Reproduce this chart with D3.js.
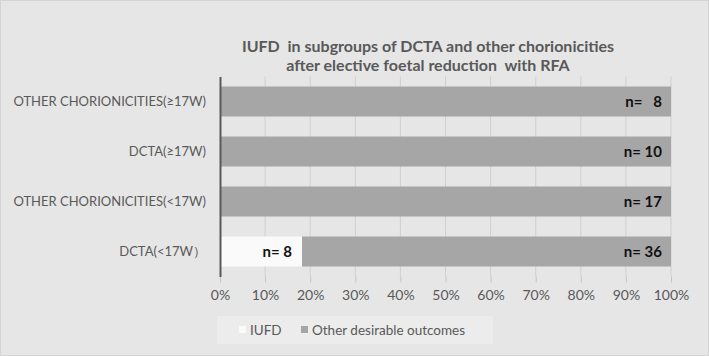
<!DOCTYPE html>
<html>
<head>
<meta charset="utf-8">
<script src="https://cdn.jsdelivr.net/npm/d3@7"></script>
<style>
  body { margin: 0; background: #fff; }
  svg text { font-family: Lato, "Open Sans", sans-serif; fill: #595959; white-space: pre; }
</style>
</head>
<body>
<div id="chart"></div>
<script>
// data
var categories = ["OTHER CHORIONICITIES(\u226517W)", "DCTA(\u226517W)", "OTHER CHORIONICITIES(<17W)", "DCTA(<17W\uFF09"];
var iufd = [0, 0, 0, 8];
var otherOutcomes = [8, 10, 17, 36];
var seriesNames = ["IUFD", "Other desirable outcomes"];
var tickValues = [0, 0.1, 0.2, 0.3, 0.4, 0.5, 0.6, 0.7, 0.8, 0.9, 1];

var W = 709, H = 356;
var margin = { top: 76.5, right: 38, bottom: 79.5, left: 220 };
var width = W - margin.left - margin.right;
var height = H - margin.top - margin.bottom;

var svg = d3.select("#chart").append("svg")
  .attr("width", W)
  .attr("height", H);

// chart background
svg.append("rect")
  .attr("x", 0.5).attr("y", 0.5)
  .attr("width", W - 1).attr("height", H - 1)
  .attr("fill", "#e6e6e6")
  .attr("stroke", "#d4d4d4");

var g = svg.append("g")
  .attr("transform", "translate(" + margin.left + "," + margin.top + ")");

var x = d3.scaleLinear().domain([0, 1]).range([0, width]);
var y = d3.scaleBand().domain(categories).range([0, height]).paddingInner(0.4).paddingOuter(0.2);

var rows = categories.map(function(c, i){
  var total = iufd[i] + otherOutcomes[i];
  return { cat: c, a: iufd[i], b: otherOutcomes[i], pa: iufd[i] / total };
});

// gridlines
g.selectAll(".grid").data(tickValues.slice(1)).enter().append("line")
  .attr("class", "grid")
  .attr("x1", function(d){ return x(d); })
  .attr("x2", function(d){ return x(d); })
  .attr("y1", 0)
  .attr("y2", height)
  .attr("stroke", "#cfcfcf");

// bars
g.selectAll(".bar-a").data(rows).enter().append("rect")
  .attr("class", "bar-a")
  .attr("x", x(0))
  .attr("y", function(d){ return y(d.cat); })
  .attr("width", function(d){ return x(d.pa) - x(0); })
  .attr("height", y.bandwidth())
  .attr("fill", "#fafafa");

g.selectAll(".bar-b").data(rows).enter().append("rect")
  .attr("class", "bar-b")
  .attr("x", function(d){ return x(d.pa); })
  .attr("y", function(d){ return y(d.cat); })
  .attr("width", function(d){ return x(1) - x(d.pa); })
  .attr("height", y.bandwidth())
  .attr("fill", "#a6a6a6");

// value labels
g.selectAll(".lab-b").data(rows).enter().append("text")
  .attr("class", "lab-b")
  .attr("x", x(1) - 9)
  .attr("y", function(d){ return y(d.cat) + y.bandwidth() / 2; })
  .attr("dy", "0.36em")
  .attr("text-anchor", "end")
  .style("font-weight", "bold")
  .style("font-size", "15px")
  .style("fill", "#111")
  .text(function(d){ return d.b < 10 ? "n=   " + d.b : "n= " + d.b; });

g.selectAll(".lab-a").data(rows.filter(function(d){ return d.a > 0; })).enter().append("text")
  .attr("class", "lab-a")
  .attr("x", function(d){ return x(d.pa) - 10; })
  .attr("y", function(d){ return y(d.cat) + y.bandwidth() / 2; })
  .attr("dy", "0.36em")
  .attr("text-anchor", "end")
  .style("font-weight", "bold")
  .style("font-size", "15px")
  .style("fill", "#111")
  .text(function(d){ return "n= " + d.a; });

// axes
var xAxis = g.append("g")
  .attr("transform", "translate(0," + height + ")")
  .call(d3.axisBottom(x).tickValues(tickValues).tickFormat(d3.format(".0%")).tickSize(6).tickPadding(8));
xAxis.select(".domain").remove();
xAxis.selectAll("line").attr("stroke", "#c4c4c4");
xAxis.selectAll("text").style("font-size", "14px").style("fill", "#595959");

var yAxis = g.append("g")
  .call(d3.axisLeft(y).tickSize(0).tickPadding(14));
yAxis.select(".domain").attr("stroke", "#595959").attr("stroke-width", 2);
yAxis.selectAll("text").style("font-size", "13px").style("fill", "#595959");

// title
var title = svg.append("text")
  .attr("text-anchor", "middle")
  .style("font-size", "16px")
  .style("font-weight", "bold");
title.append("tspan").attr("x", 428).attr("y", 52).text("IUFD  in subgroups of DCTA and other chorionicities");
title.append("tspan").attr("x", 428).attr("y", 71).text("after elective foetal reduction  with RFA");

// legend
var legend = svg.append("g").attr("transform", "translate(217,316)");
legend.append("rect")
  .attr("width", 276).attr("height", 28)
  .attr("fill", "#ececec");
var colors = ["#fafafa", "#a6a6a6"];
var offsets = [22, 84];
seriesNames.forEach(function(s, i){
  legend.append("rect")
    .attr("x", offsets[i]).attr("y", 10)
    .attr("width", 7).attr("height", 7)
    .attr("fill", colors[i]);
  legend.append("text")
    .attr("x", offsets[i] + 11).attr("y", 14)
    .attr("dy", "0.35em")
    .style("font-size", "13.5px")
    .text(s);
});
</script>
</body>
</html>
